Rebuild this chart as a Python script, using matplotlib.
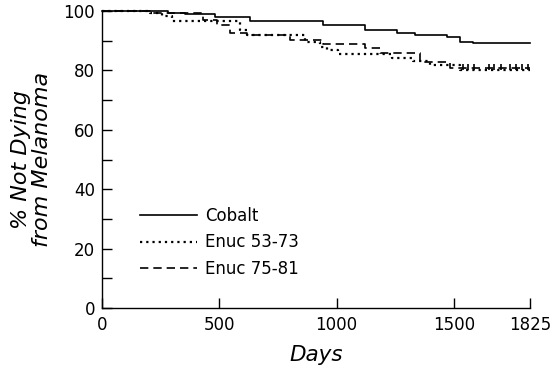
import matplotlib
matplotlib.use('Agg')
import matplotlib.pyplot as plt
from matplotlib.ticker import MultipleLocator

# Kaplan-Meier style step curves (days, % not dying)
cobalt_days = [0, 280, 355, 484, 630, 942, 1121, 1258, 1335, 1471, 1527, 1582, 1825]
cobalt_surv = [100, 99.5, 99, 98, 96.6, 95.3, 93.6, 92.6, 92, 91.2, 89.6, 89.2, 89.2]

enuc5373_days = [0, 205, 256, 299, 588, 618, 866, 930, 959, 1006, 1237, 1326, 1399, 1527, 1825]
enuc5373_surv = [100, 99.3, 98.4, 96.6, 93.6, 91.9, 89.5, 88, 86.9, 85.5, 84.2, 83.2, 81.8, 80.3, 80.3]

enuc7581_days = [0, 205, 430, 490, 546, 618, 802, 942, 1121, 1185, 1356, 1484, 1825]
enuc7581_surv = [100, 99.3, 97, 95.3, 92.6, 91.9, 90.2, 89, 87.5, 85.8, 83, 80.8, 80.8]

# censoring marks near the end of the enucleation curves
censor_days = [1540, 1560, 1585, 1650, 1670, 1700, 1740, 1765, 1790, 1815]
censor_surv = [80.3] * len(censor_days)

fig = plt.figure(figsize=(5.51, 3.70), dpi=100)
ax = fig.add_axes([0.185, 0.1676, 0.777, 0.8024])

ax.step(cobalt_days, cobalt_surv, where='post', color='black', lw=1.2,
        label='Cobalt', clip_on=False)
ax.step(enuc5373_days, enuc5373_surv, where='post', color='black', lw=1.6,
        linestyle=(0, (1, 1.8)), label='Enuc 53-73', clip_on=False)
ax.step(enuc7581_days, enuc7581_surv, where='post', color='black', lw=1.2,
        linestyle=(0, (5, 3)), label='Enuc 75-81', clip_on=False)
ax.plot(censor_days, censor_surv, linestyle='none', marker=2, markersize=4,
        color='black', markeredgewidth=1.2)

ax.set_xlim(0, 1825)
ax.set_ylim(0, 100)
ax.set_xticks([0, 500, 1000, 1500, 1825])
ax.set_yticks([0, 20, 40, 60, 80, 100])
ax.yaxis.set_minor_locator(MultipleLocator(10))

for s in ['top', 'right']:
    ax.spines[s].set_visible(False)
for s in ['left', 'bottom']:
    ax.spines[s].set_linewidth(1.0)

ax.tick_params(axis='both', which='both', direction='in', length=7, width=1.0,
               labelsize=12)
ax.tick_params(axis='y', pad=5)
ax.tick_params(axis='x', pad=6)

ax.set_xlabel('Days', fontsize=15.5, fontstyle='italic', labelpad=8)
ax.set_ylabel('% Not Dying\nfrom Melanoma', fontsize=16, fontstyle='italic',
              labelpad=8, linespacing=1.05)

ax.legend(loc='lower left', bbox_to_anchor=(0.055, 0.05), frameon=False,
          fontsize=12, handlelength=3.4, handletextpad=0.45, labelspacing=0.52)

fig.savefig('out.png', dpi=100)
